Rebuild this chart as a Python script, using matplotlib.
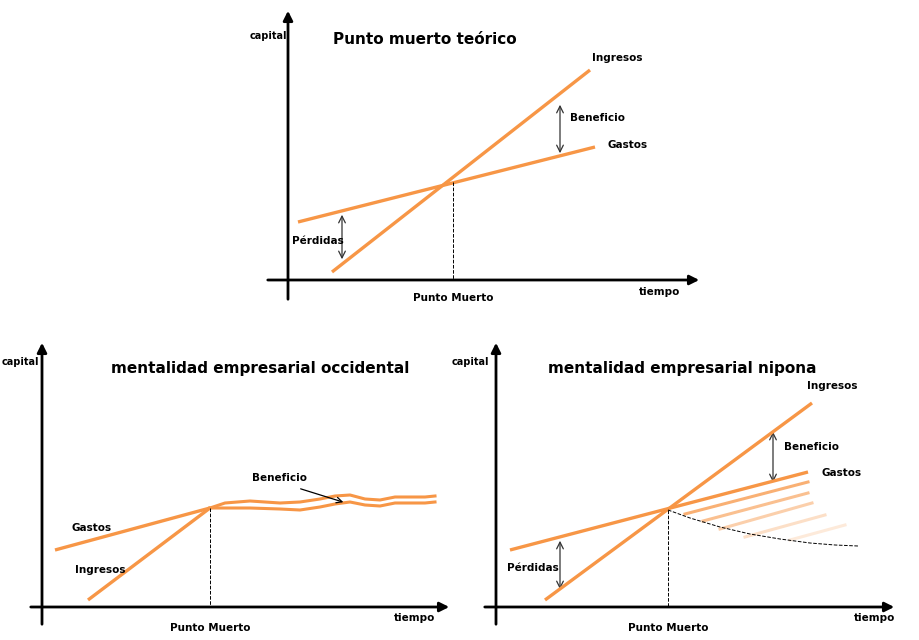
import matplotlib.pyplot as plt
from matplotlib.patches import FancyArrowPatch

ORANGE = "#F4A261"
ORANGE = "#F79646"

# coordinates are in pixel space of the 920x640 picture (y downwards)
# top panel: punto muerto teórico
top_ingresos = [(332, 272), (590, 70)]
top_gastos = [(298, 222), (595, 147)]
top_pm = (453, 182)
# bottom left: occidental
occ_gastos = [(55, 550), (210, 508)]
occ_ingresos = [(88, 600), (210, 508)]
occ_wave_x = [210, 225, 250, 280, 300, 320, 335, 350, 365, 380, 395, 410, 425, 435]
occ_wave_a = [508, 503, 501, 503, 502, 499, 496, 495, 499, 500, 497, 497, 497, 496]
occ_wave_b = [508, 508, 508, 509, 510, 507, 504, 502, 505, 506, 503, 503, 503, 502]
occ_pm = (210, 508)
# bottom right: nipona
nip_ingresos = [(545, 600), (812, 403)]
nip_gastos = [(510, 550), (808, 472)]
nip_pm = (668, 510)
nip_fade = [  # (x0, y0, x1, y1, alpha)
    (685, 514, 808, 482, 0.75),
    (703, 521, 808, 493, 0.6),
    (720, 529, 812, 503, 0.45),
    (745, 537, 825, 515, 0.3),
    (790, 540, 845, 525, 0.2),
]
nip_curve_x = [668, 690, 720, 750, 780, 810, 835, 858]
nip_curve_y = [510, 518, 527, 534, 539, 543, 545, 546]

fig = plt.figure(figsize=(9.2, 6.4), dpi=100)
ax = fig.add_axes([0, 0, 1, 1])
ax.set_xlim(0, 920)
ax.set_ylim(640, 0)
ax.axis("off")

FONT = "DejaVu Sans"


def axes_arrows(x0, y_top, y_axis, x_left, x_right, y_bottom):
    ax.annotate("", xy=(x0, y_top), xytext=(x0, y_bottom),
                arrowprops=dict(arrowstyle="-|>", color="black", lw=2, mutation_scale=14))
    ax.annotate("", xy=(x_right, y_axis), xytext=(x_left, y_axis),
                arrowprops=dict(arrowstyle="-|>", color="black", lw=2, mutation_scale=14))


def seg(points, **kw):
    xs, ys = zip(*points)
    ax.plot(xs, ys, color=ORANGE, lw=2.4, solid_capstyle="butt", **kw)


def darrow(x, y0, y1):
    ax.add_patch(FancyArrowPatch((x, y0), (x, y1), arrowstyle="<->", color="#333333",
                                 lw=0.9, mutation_scale=12))


def txt(x, y, s, size=7.5, **kw):
    ax.text(x, y, s, fontsize=size, fontweight="bold", family=FONT,
            ha=kw.pop("ha", "center"), va="center", **kw)


# top panel
axes_arrows(288, 8, 280, 265, 702, 302)
seg(top_ingresos)
seg(top_gastos)
ax.plot([top_pm[0], top_pm[0]], [top_pm[1], 280], ls="--", color="black", lw=0.7)
darrow(342, 212, 262)
darrow(560, 102, 156)
txt(268, 36, "capital", 7)
txt(425, 40, "Punto muerto teórico", 11)
txt(617, 58, "Ingresos")
txt(628, 145, "Gastos")
txt(598, 118, "Beneficio")
txt(318, 241, "Pérdidas")
txt(453, 298, "Punto Muerto")
txt(660, 292, "tiempo")

# bottom left
axes_arrows(42, 340, 607, 28, 452, 627)
seg(occ_gastos)
seg(occ_ingresos)
ax.plot(occ_wave_x, occ_wave_a, color=ORANGE, lw=2.2)
ax.plot(occ_wave_x, occ_wave_b, color=ORANGE, lw=2.2)
ax.plot([occ_pm[0], occ_pm[0]], [occ_pm[1], 607], ls="--", color="black", lw=0.7)
ax.annotate("", xy=(346, 503), xytext=(298, 488),
            arrowprops=dict(arrowstyle="->", color="black", lw=0.9))
txt(20, 362, "capital", 7)
txt(260, 368, "mentalidad empresarial occidental", 11)
txt(92, 528, "Gastos")
txt(100, 570, "Ingresos")
txt(280, 478, "Beneficio")
txt(210, 628, "Punto Muerto")
txt(415, 618, "tiempo")

# bottom right
axes_arrows(496, 340, 607, 482, 897, 627)
for x0, y0, x1, y1, a in nip_fade:
    ax.plot([x0, x1], [y0, y1], color=ORANGE, lw=2.2, alpha=a)
seg(nip_ingresos)
seg(nip_gastos)
ax.plot(nip_curve_x, nip_curve_y, ls="--", color="black", lw=0.7)
ax.plot([nip_pm[0], nip_pm[0]], [nip_pm[1], 607], ls="--", color="black", lw=0.7)
darrow(773, 429, 485)
darrow(560, 538, 592)
txt(470, 362, "capital", 7)
txt(682, 368, "mentalidad empresarial nipona", 11)
txt(832, 386, "Ingresos")
txt(812, 447, "Beneficio")
txt(842, 473, "Gastos")
txt(533, 568, "Pérdidas")
txt(668, 628, "Punto Muerto")
txt(875, 618, "tiempo")

fig.savefig("out.png", dpi=100)
